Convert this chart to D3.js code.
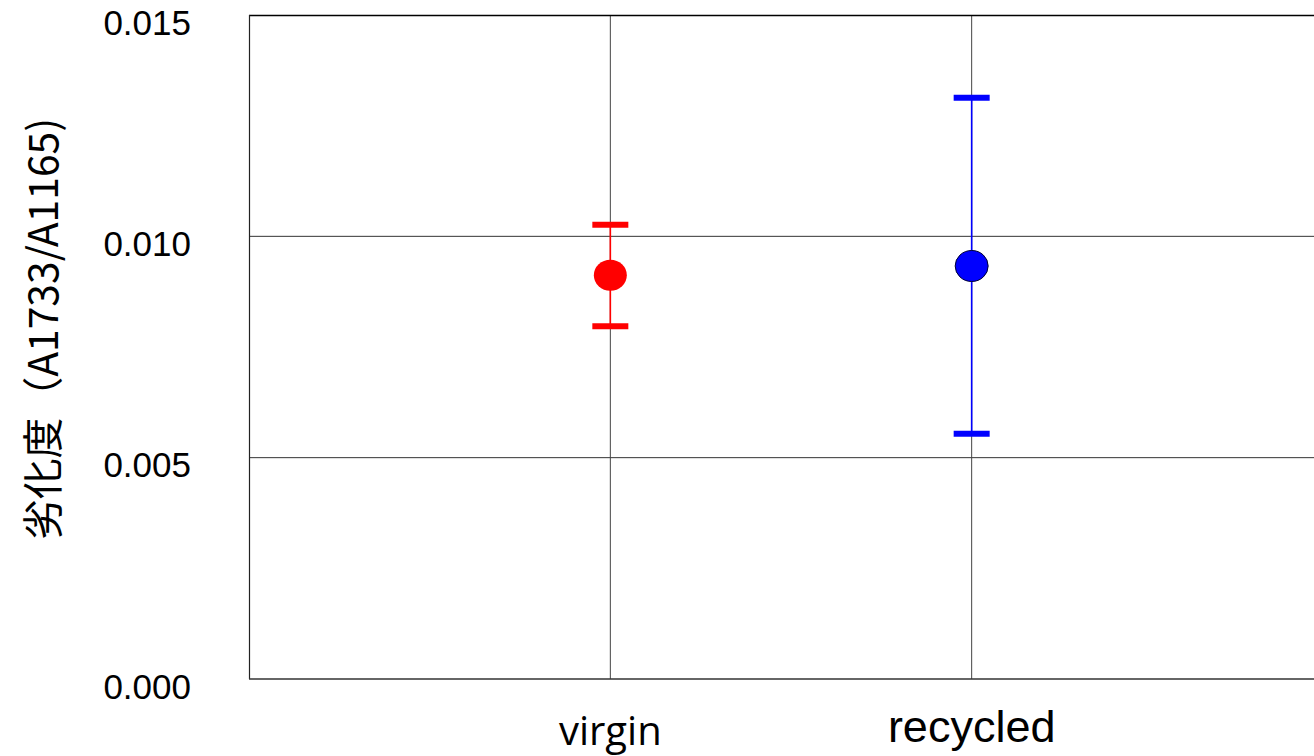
<!DOCTYPE html>
<html>
<head>
<meta charset="utf-8">
<script src="https://cdn.jsdelivr.net/npm/d3@7"></script>
<style>
  html, body { margin: 0; padding: 0; background: #fff; }
  svg { display: block; }
</style>
</head>
<body>
<svg id="chart" width="1314" height="756"></svg>
<script>
// Degradation index (A1733/A1165) per sample type: mean with min/max range
const categories = ["virgin", "recycled"];
const meanValues = [0.00912, 0.00933];
const upperValues = [0.01026, 0.01313];
const lowerValues = [0.00797, 0.00554];
const seriesColors = ["#ff0000", "#0000ff"];
const yTicks = [0.000, 0.005, 0.010, 0.015];
const yTitle = "劣化度（A1733/A1165)";

const svg = d3.select("#chart");
const plotLeft = 249, plotTop = 15, plotBottom = 679, plotRight = 1333;

const x = d3.scalePoint().domain(categories).range([plotLeft, plotRight]).padding(1);
const y = d3.scaleLinear().domain([0, 0.015]).range([plotBottom, plotTop]);

// gridlines
svg.append("g").selectAll("line").data(yTicks.filter(d => d > 0 && d < 0.015)).join("line")
  .attr("x1", plotLeft).attr("x2", 1314)
  .attr("y1", d => y(d)).attr("y2", d => y(d))
  .attr("stroke", "#333").attr("stroke-width", 1);
svg.append("g").selectAll("line").data(categories).join("line")
  .attr("x1", d => x(d)).attr("x2", d => x(d))
  .attr("y1", plotTop).attr("y2", plotBottom)
  .attr("stroke", "#444").attr("stroke-width", 1);

// frame
svg.append("line").attr("x1", plotLeft).attr("x2", 1314).attr("y1", plotTop + 0.5).attr("y2", plotTop + 0.5)
  .attr("stroke", "#000").attr("stroke-width", 1.5);
svg.append("line").attr("x1", plotLeft + 0.5).attr("x2", plotLeft + 0.5).attr("y1", plotTop).attr("y2", plotBottom)
  .attr("stroke", "#222").attr("stroke-width", 1.2);
svg.append("line").attr("x1", plotLeft).attr("x2", 1314).attr("y1", plotBottom).attr("y2", plotBottom)
  .attr("stroke", "#333").attr("stroke-width", 1.6);

// y tick labels
const yAxis = d3.axisLeft(y).tickValues(yTicks).tickFormat(d3.format(".3f")).tickSize(0).tickPadding(58);
const ya = svg.append("g").attr("transform", `translate(${plotLeft},0)`).call(yAxis);
ya.select(".domain").remove();
ya.selectAll("text")
  .attr("font-family", "Liberation Sans, Arial, sans-serif")
  .attr("font-size", 35).attr("fill", "#000").attr("dy", "0.55em");

// x labels
const xFonts = ["Open Sans, sans-serif", "Liberation Sans, Arial, sans-serif"];
const xSizes = [40, 45];
const xBase = [745, 742];
svg.append("g").selectAll("text").data(categories).join("text")
  .attr("x", d => x(d)).attr("y", (d, i) => xBase[i])
  .attr("text-anchor", "middle")
  .attr("font-family", (d, i) => xFonts[i])
  .attr("font-size", (d, i) => xSizes[i])
  .attr("fill", "#000")
  .text(d => d);

// y title
svg.append("text")
  .attr("transform", `translate(58,329) rotate(-90)`)
  .attr("text-anchor", "middle")
  .attr("font-family", "Noto Sans CJK JP, Liberation Sans, sans-serif")
  .attr("font-size", 41).attr("fill", "#000")
  .attr("textLength", 422).attr("lengthAdjust", "spacingAndGlyphs")
  .text(yTitle);

// error bars and markers
const g = svg.append("g");
categories.forEach((c, i) => {
  const cx = x(c), col = seriesColors[i];
  g.append("line").attr("x1", cx).attr("x2", cx)
    .attr("y1", y(upperValues[i])).attr("y2", y(lowerValues[i]))
    .attr("stroke", col).attr("stroke-width", 1.6);
  [upperValues[i], lowerValues[i]].forEach(v => {
    g.append("line").attr("x1", cx - 18).attr("x2", cx + 18)
      .attr("y1", y(v)).attr("y2", y(v))
      .attr("stroke", col).attr("stroke-width", 6);
  });
  g.append("ellipse").attr("cx", cx).attr("cy", y(meanValues[i]))
    .attr("rx", 16.5).attr("ry", 15.5)
    .attr("fill", col)
    .attr("stroke", i === 1 ? "#000033" : "none").attr("stroke-width", 1);
});
</script>
</body>
</html>
